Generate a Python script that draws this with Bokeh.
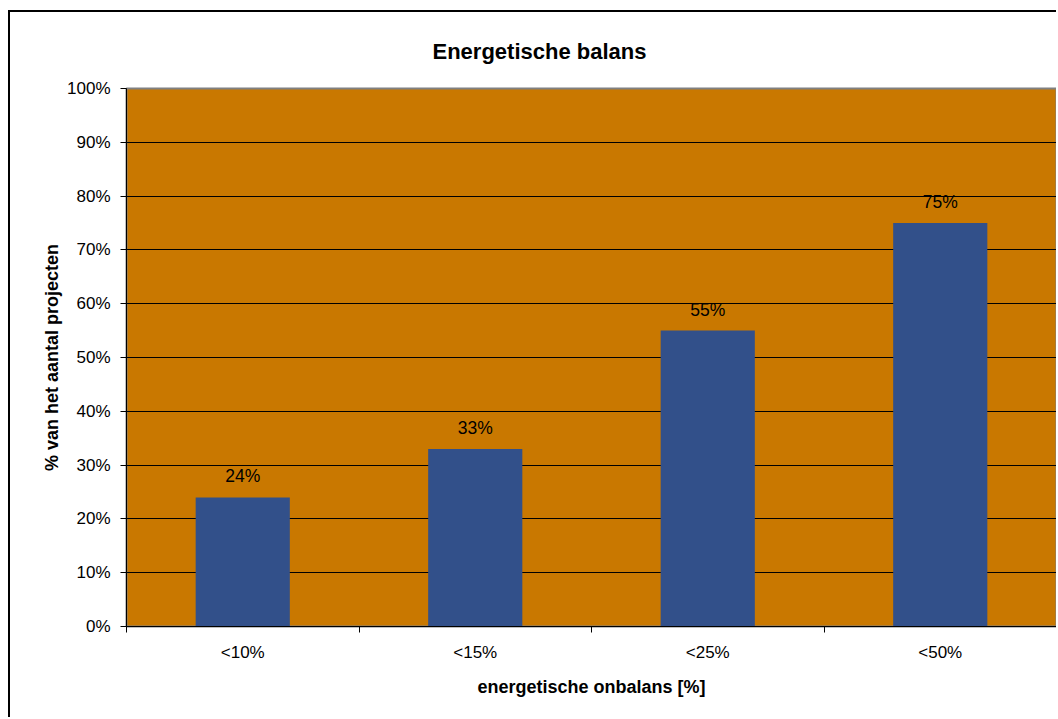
from bokeh.plotting import figure
from bokeh.models import (Range1d, FixedTicker, PrintfTickFormatter, ColumnDataSource,
                          LabelSet, Title)
from bokeh.core.properties import value
from bokeh.embed import file_html
from bokeh.resources import INLINE

# Share of projects per energy imbalance class
categories = ["<10%", "<15%", "<25%", "<50%"]
shares = [24, 33, 55, 75]
y_ticks = [0, 10, 20, 30, 40, 50, 60, 70, 80, 90, 100]

FONT = "Liberation Sans"
ORANGE = "#C97800"
BLUE = "#32508A"

centers = [i + 0.5 for i in range(len(categories))]
bounds = list(range(len(categories) + 1))

src = ColumnDataSource(dict(
    x=centers,
    share=shares,
    label=[f"{v}%" for v in shares],
))

p = figure(
    width=1048, height=707,
    x_range=Range1d(0, len(categories)), y_range=Range1d(0, 100),
    output_backend="svg", toolbar_location=None,
    min_border_left=116, min_border_right=2, min_border_top=76, min_border_bottom=93,
    styles={"margin-left": "8px", "margin-top": "10px",
            "border-left": "2px solid #000", "border-top": "2px solid #000"},
)
p.title = None
p.add_layout(Title(text="Energetische balans", align="left", offset=306, standoff=49,
                   text_font=FONT, text_font_size="22px", text_font_style="bold",
                   text_color="black"), "above")

p.background_fill_color = ORANGE
p.border_fill_color = "white"
p.outline_line_color = "#808080"
p.outline_line_width = 2

# gridlines
p.xgrid.visible = False
p.ygrid.ticker = FixedTicker(ticks=y_ticks)
p.ygrid.grid_line_color = "black"
p.ygrid.grid_line_width = 1

# bars
p.vbar(x="x", top="share", bottom=0, width=0.405, source=src,
       fill_color=BLUE, line_color=None)

p.add_layout(LabelSet(x="x", y="share", text="label", source=src,
                      text_align="center", text_baseline="bottom", y_offset=11,
                      text_font=value(FONT), text_font_size=value("17.5px"),
                      text_color="black"))

# y axis
ya = p.yaxis[0]
ya.ticker = FixedTicker(ticks=y_ticks)
ya.formatter = PrintfTickFormatter(format="%d%%")
ya.axis_line_color = "black"
ya.major_tick_line_color = "black"
ya.major_tick_out = 6
ya.major_tick_in = 0
ya.minor_tick_line_color = None
ya.major_label_standoff = 10
ya.major_label_text_font = FONT
ya.major_label_text_font_size = "17px"
ya.major_label_text_color = "black"
ya.axis_label = "% van het aantal projecten"
ya.axis_label_text_font = FONT
ya.axis_label_text_font_size = "18px"
ya.axis_label_text_font_style = "bold"
ya.axis_label_text_color = "black"
ya.axis_label_standoff = 2

# x axis: labels at category centres, ticks at category boundaries
xa = p.xaxis[0]
xa.ticker = FixedTicker(ticks=centers, minor_ticks=bounds)
xa.major_label_overrides = {c: name for c, name in zip(centers, categories)}
xa.axis_line_color = "black"
xa.major_tick_line_color = None
xa.minor_tick_line_color = "black"
xa.minor_tick_out = 6
xa.minor_tick_in = 0
xa.major_label_standoff = 10
xa.major_label_text_font = FONT
xa.major_label_text_font_size = "17px"
xa.major_label_text_color = "black"
xa.axis_label = "energetische onbalans [%]"
xa.axis_label_text_font = FONT
xa.axis_label_text_font_size = "18px"
xa.axis_label_text_font_style = "bold"
xa.axis_label_text_color = "black"
xa.axis_label_standoff = 12

open("out.html", "w").write(file_html(p, INLINE))
